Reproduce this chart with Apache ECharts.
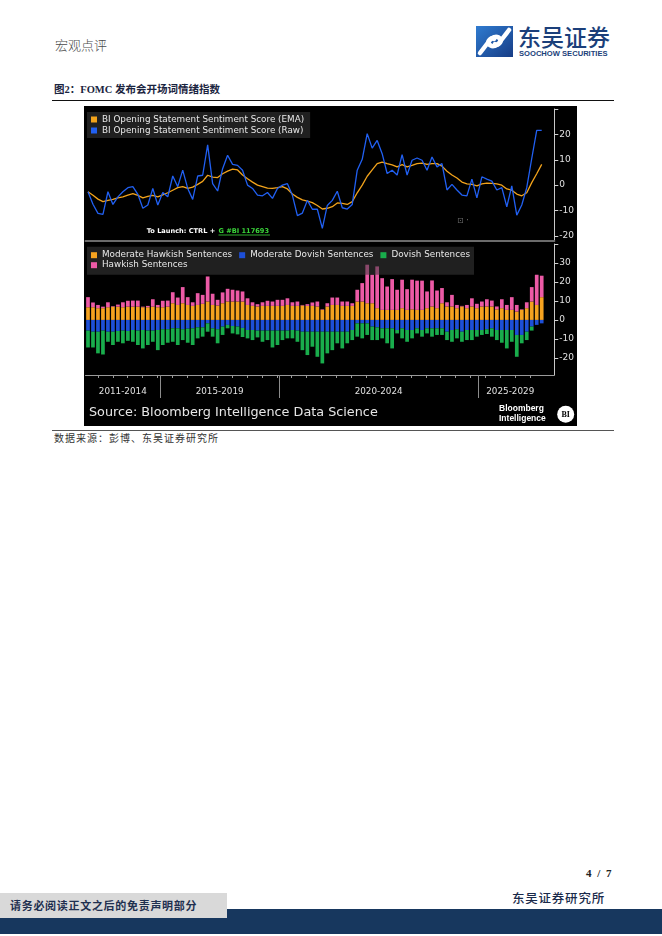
<!DOCTYPE html>
<html>
<head>
<meta charset="utf-8">
<script src="https://cdn.jsdelivr.net/npm/echarts@6/dist/echarts.min.js"></script>
<style>
html,body{margin:0;padding:0;background:#fff;}
#page{position:relative;width:662px;height:936px;overflow:hidden;background:#fff;font-family:"Noto Sans CJK SC",sans-serif;}
.abs{position:absolute;white-space:nowrap;}
</style>
</head>
<body>
<div id="page">
  <div class="abs" style="left:55px;top:38px;font-size:13px;line-height:13px;color:#4a4a4a;font-weight:300;">宏观点评</div>
  <svg class="abs" style="left:476px;top:26px" width="37" height="31" viewBox="0 0 37 31">
    <defs><linearGradient id="lg" x1="0" y1="0" x2="1" y2="1"><stop offset="0" stop-color="#2f7bd0"/><stop offset="1" stop-color="#173d86"/></linearGradient></defs>
    <rect x="0" y="0" width="37" height="31" fill="url(#lg)"/>
    <path d="M4,27 L14,14 C17,10 22,10 24,13 C26,16 22,20 19,18" stroke="#fff" stroke-width="4.5" fill="none" stroke-linecap="round"/>
    <path d="M33,4 L23,17 C20,21 15,21 13,18 C11,15 15,11 18,13" stroke="#fff" stroke-width="4.5" fill="none" stroke-linecap="round"/>
  </svg>
  <div class="abs" style="left:518px;top:25px;font-size:23px;line-height:23px;color:#1b3f7a;font-weight:500;">东吴证券</div>
  <div class="abs" style="left:519px;top:49.5px;font-family:'Liberation Sans',sans-serif;font-weight:bold;font-size:7.6px;line-height:8px;color:#1b3f7a;">SOOCHOW SECURITIES</div>
  <div class="abs" style="left:54px;top:83.5px;font-family:'Liberation Serif','Noto Sans CJK SC',serif;font-weight:bold;font-size:10.5px;line-height:11px;color:#1a2440;">图2：FOMC 发布会开场词情绪指数</div>
  <div class="abs" style="left:52px;top:100px;width:562px;height:1px;background:#111;"></div>
  <div id="chart" class="abs" style="left:84px;top:106px;width:493px;height:320px;background:#000;"></div>
  <div class="abs" style="left:52px;top:430px;width:562px;height:1px;background:#555;"></div>
  <div class="abs" style="left:54px;top:433px;font-size:10px;line-height:10px;letter-spacing:1px;color:#333;">数据来源：彭博、东吴证券研究所</div>
  <div class="abs" style="right:49px;top:867px;font-family:'Liberation Serif',serif;font-weight:bold;font-size:11px;line-height:12px;letter-spacing:1.5px;color:#222;">4 / 7</div>
  <div class="abs" style="right:57px;top:890.5px;font-size:12.5px;line-height:13px;letter-spacing:0.8px;color:#1a2a4a;font-weight:500;">东吴证券研究所</div>
  <div class="abs" style="left:0;top:909px;width:662px;height:25px;background:#17375e;"></div>
  <div class="abs" style="left:0;top:893px;width:227px;height:25px;background:#d9d9d9;"></div>
  <div class="abs" style="left:10px;top:899px;font-size:11px;line-height:12px;letter-spacing:0.7px;font-weight:bold;color:#1f3050;">请务必阅读正文之后的免责声明部分</div>
</div>
<script>
// ---- data ----
const periodLabels = ['2011-2014', '2015-2019', '2020-2024', '2025-2029'];
const periodCounts = [15, 24, 40, 13];
const yTicksTop = [-20, -10, 0, 10, 20];
const yTicksBottom = [-20, -10, 0, 10, 20, 30];

const ema = [
  -2.6, -4.0, -5.5, -6.5, -6.0, -5.6, -5.0, -4.6, -3.9, -3.3,
  -4.0, -5.0, -4.4, -4.0, -4.6, -3.8, -3.0, -2.0, -1.0, -0.6,
  -1.3, -0.8, 0.3, 1.5, 3.9, 3.2, 3.0, 4.5, 5.5, 6.3,
  6.0, 4.0, 2.5, 1.2, 0.0, -0.6, -1.2, -1.3, -1.0, -0.6,
  -1.5, -3.5, -4.8, -5.8, -6.3, -6.9, -8.0, -9.4, -9.1, -8.5,
  -7.0, -7.2, -7.6, -6.5, -3.0, 0.0, 3.5, 6.0, 8.5, 9.1,
  8.5, 8.0, 7.2, 8.1, 7.2, 7.8, 8.5, 8.7, 8.2, 8.5,
  8.5, 7.5, 5.5, 4.0, 2.8, 1.2, 0.5, 0.3, -0.3, 0.5,
  0.8, 0.7, 0.5, 0.0, -1.5, -2.0, -3.5, -4.2, -3.0, 1.0,
  4.5, 8.2
];
const raw = [
  -2.6, -7.5, -11.1, -11.5, -2.6, -7.6, -4.6, -2.6, -1.0, -0.6,
  -3.6, -9.1, -7.8, -1.3, -7.8, -2.9, -4.6, 3.6, -0.6, 5.9,
  -1.3, -5.6, 3.6, 3.9, 15.9, 0.6, -2.3, 6.5, 11.8, 8.2,
  7.8, 5.9, 0.0, -1.3, -3.9, -4.2, -2.9, -5.2, -1.3, 0.0,
  0.6, -4.0, -12.0, -11.0, -6.0, -9.5, -9.5, -17.0, -8.0, -6.0,
  -2.4, -8.9, -9.4, -7.6, 5.9, 10.2, 20.3, 14.6, 17.6, 12.4,
  4.6, 5.9, 4.0, 12.0, 4.0, 9.8, 10.7, 9.8, 5.9, 11.1,
  7.2, 8.5, -1.9, 0.3, -1.9, -3.9, -4.2, 2.4, -5.0, 3.3,
  2.4, 1.6, -1.9, -1.0, -8.5, -0.3, -11.8, -7.8, -1.0, 10.5,
  21.6, 21.6
];
const modHawkish = [
  6.7, 6.7, 6.2, 6.2, 6.7, 7.0, 7.0, 6.7, 7.0, 7.0,
  7.0, 6.7, 6.7, 7.0, 6.7, 6.7, 7.0, 8.8, 7.9, 8.8,
  7.9, 7.4, 7.9, 8.5, 9.7, 7.9, 7.6, 8.8, 9.7, 9.7,
  9.7, 9.7, 7.9, 7.4, 7.1, 7.4, 7.4, 7.4, 7.4, 7.4,
  7.9, 7.4, 7.4, 7.6, 7.4, 7.4, 7.1, 5.3, 7.1, 7.9,
  7.9, 7.4, 7.4, 7.4, 9.7, 9.7, 8.8, 8.8, 6.2, 5.3,
  5.3, 5.3, 5.3, 6.2, 5.3, 5.6, 5.3, 5.3, 6.2, 7.1,
  6.2, 8.8, 7.1, 7.1, 6.2, 7.1, 6.2, 7.1, 6.2, 7.1,
  7.1, 7.1, 5.6, 6.2, 5.3, 5.3, 4.4, 5.3, 6.2, 9.7,
  7.9, 12.0
];
const modDovish = [
  -5.6, -6.2, -6.2, -5.6, -6.2, -6.2, -5.8, -5.6, -5.8, -5.3,
  -5.6, -5.3, -5.6, -5.6, -5.3, -4.9, -4.9, -4.4, -4.4, -4.9,
  -4.6, -4.4, -3.9, -3.9, -1.8, -4.4, -4.9, -3.5, -2.6, -3.2,
  -3.5, -4.2, -5.3, -5.3, -5.6, -5.6, -5.6, -5.6, -5.6, -5.6,
  -5.6, -5.3, -5.6, -6.2, -6.2, -6.2, -6.2, -6.2, -6.2, -6.2,
  -6.2, -6.2, -6.2, -5.3, -1.8, -1.8, -1.8, -3.5, -3.9, -4.4,
  -4.4, -4.4, -5.3, -4.4, -5.3, -5.3, -4.4, -5.3, -4.4, -4.4,
  -4.4, -4.4, -6.2, -5.3, -4.9, -6.2, -5.3, -5.3, -5.3, -5.3,
  -4.9, -4.4, -5.3, -5.3, -5.3, -5.3, -7.9, -7.9, -6.2, -3.5,
  -2.6, -1.8
];
const dovish = [
  -8.9, -8.3, -11.4, -12.6, -5.3, -7.0, -5.7, -6.7, -5.2, -6.2,
  -7.6, -9.7, -7.6, -5.9, -10.6, -8.3, -7.1, -7.1, -8.8, -5.7,
  -7.4, -8.8, -5.8, -4.9, -4.4, -4.4, -7.4, -4.4, -1.8, -3.9,
  -4.1, -4.8, -4.4, -5.3, -3.6, -5.9, -5.0, -8.9, -7.6, -5.0,
  -4.1, -4.4, -5.9, -9.7, -12.3, -7.9, -13.2, -16.7, -11.4, -9.7,
  -6.1, -8.8, -6.1, -5.3, -7.0, -7.9, -6.1, -7.1, -6.7, -5.3,
  -7.9, -10.6, -1.8, -5.3, -6.2, -4.4, -2.7, -3.5, -2.7, -4.4,
  -3.5, -3.5, -4.4, -6.2, -4.8, -5.3, -5.3, -5.3, -3.5, -2.6,
  -2.5, -4.4, -5.3, -6.7, -9.7, -6.2, -11.5, -4.4, -4.4, -2.1,
  0, 0
];
const hawkish = [
  5.3, 2.5, 1.7, 0.8, 2.6, 0.3, 1.1, 2.6, 3.1, 3.2,
  3.2, 0.3, 0.7, 3.9, 1.2, 3.4, 3.2, 5.8, 3.9, 8.5,
  4.1, 1.9, 6.2, 4.7, 13.2, 5.9, 3.0, 5.7, 6.7, 6.2,
  5.8, 5.3, 3.5, 1.9, 1.2, 1.9, 2.7, 2.3, 3.2, 3.2,
  3.5, 1.9, 2.3, 0.3, 0.9, 1.8, 2.6, 0.3, 1.7, 3.9,
  3.9, 2.3, 2.3, 1.4, 6.2, 9.7, 20.3, 15.0, 22.0, 16.7,
  12.3, 16.2, 10.6, 15.0, 10.9, 15.6, 15.4, 15.4, 8.8, 13.7,
  9.3, 8.0, 2.2, 6.1, 1.7, 0.3, 1.7, 4.3, 2.3, 2.6,
  3.8, 3.1, 1.5, 4.7, 2.6, 6.7, 3.5, 0.3, 3.1, 7.6,
  15.9, 11.3
];

// ---- build ----
const categories = [];
periodLabels.forEach((p, k) => { for (let j = 0; j < periodCounts[k]; j++) categories.push(p + ' #' + (j + 1)); });
const N = categories.length;

const L = 1.5, DW = 458.7, FW = 470.5;
const band = DW / N;
const fMax = FW / band - 0.5;

const bounds = [], centers = [];
let acc = 0;
periodCounts.forEach(c => { centers.push(acc + (c - 1) / 2); acc += c; bounds.push(acc - 0.5); });
bounds.pop();
const minorTicks = [];
for (let v = 2; v < N; v += 3) minorTicks.push(v);

const EMA = 'BI Opening Statement Sentiment Score (EMA)';
const RAW = 'BI Opening Statement Sentiment Score (Raw)';
const MH = 'Moderate Hawkish Sentences', MD = 'Moderate Dovish Sentences', DV = 'Dovish Sentences', HK = 'Hawkish Sentences';
const C = { ema: '#f2a31b', raw: '#2160f2', mh: '#f5a21f', md: '#1d4fd8', dv: '#19ad4c', hk: '#ec5aa6' };

const legendText = { color: '#e8e8e8', fontSize: 8.8, lineHeight: 11, fontFamily: 'DejaVu Sans' };
const legendBase = { itemWidth: 6, itemHeight: 6, icon: 'rect', selectedMode: false, textStyle: legendText };

const chart = echarts.init(document.getElementById('chart'), null, { renderer: 'canvas', width: 493, height: 320 });
chart.setOption({
  backgroundColor: '#000',
  animation: false,
  textStyle: { fontFamily: 'DejaVu Sans' },
  grid: [
    { left: L, top: 3, width: DW, height: 132 },
    { left: L, top: 138, width: DW, height: 131 },
    { left: L, top: 3, width: FW, height: 132 },
    { left: L, top: 138, width: FW, height: 131 }
  ],
  xAxis: [
    { gridIndex: 0, type: 'category', data: categories, boundaryGap: true, show: false },
    { gridIndex: 1, type: 'category', data: categories, boundaryGap: true, show: false },
    { gridIndex: 2, type: 'value', min: -0.5, max: fMax,
      axisLine: { onZero: false, lineStyle: { color: '#6b6b6b', width: 2 } },
      axisTick: { show: false }, axisLabel: { show: false }, splitLine: { show: false } },
    { gridIndex: 3, type: 'value', min: -0.5, max: fMax,
      axisLine: { onZero: false, lineStyle: { color: '#9a9a9a', width: 1 } },
      axisTick: { show: true, customValues: bounds, length: 23, lineStyle: { color: '#8c8c8c' } },
      axisLabel: { customValues: centers, margin: 12, color: '#e0e0e0', fontSize: 8.8,
        formatter: v => { let b = 0; centers.forEach((c, k) => { if (Math.abs(c - v) < Math.abs(centers[b] - v)) b = k; }); return periodLabels[b]; } },
      splitLine: { show: false } },
    { gridIndex: 3, type: 'value', min: -0.5, max: fMax, position: 'bottom',
      axisLine: { show: false, onZero: false },
      axisTick: { show: true, customValues: minorTicks, length: 3, lineStyle: { color: '#9a9a9a' } },
      axisLabel: { show: false }, splitLine: { show: false } }
  ],
  yAxis: [
    { gridIndex: 0, type: 'value', min: -22, max: 30, show: false },
    { gridIndex: 1, type: 'value', min: -29, max: 40, show: false },
    { gridIndex: 2, type: 'value', min: -22, max: 30, position: 'right',
      axisLine: { show: true, onZero: false, lineStyle: { color: '#c8c8c8' } },
      axisTick: { show: true, customValues: [-20, -10, 0, 10, 20, 30], length: 4, lineStyle: { color: '#d0d0d0' } },
      axisLabel: { customValues: yTicksTop, color: '#e0e0e0', fontSize: 9, margin: 5 },
      splitLine: { show: false } },
    { gridIndex: 3, type: 'value', min: -29, max: 40, position: 'right',
      axisLine: { show: true, onZero: false, lineStyle: { color: '#c8c8c8' } },
      axisTick: { show: true, customValues: [-20, -10, 0, 10, 20, 30, 40], length: 4, lineStyle: { color: '#d0d0d0' } },
      axisLabel: { customValues: yTicksBottom, color: '#e0e0e0', fontSize: 9, margin: 5 },
      splitLine: { show: false } }
  ],
  legend: [
    Object.assign({}, legendBase, { data: [EMA, RAW], orient: 'vertical', left: 3, top: 6, padding: [2, 6, 2, 4], itemGap: 0, backgroundColor: 'rgba(58,58,58,0.55)' }),
    Object.assign({}, legendBase, { data: [MH, MD, DV], orient: 'horizontal', left: 3, top: 140.7, padding: [3, 4, 14, 4], itemGap: 7, backgroundColor: 'rgba(58,58,58,0.55)' }),
    Object.assign({}, legendBase, { data: [HK], orient: 'horizontal', left: 3, top: 153.7, padding: [0, 5, 0, 4], backgroundColor: 'transparent' })
  ],
  series: [
    { name: EMA, type: 'line', xAxisIndex: 0, yAxisIndex: 0, data: ema, color: C.ema, symbol: 'none', showSymbol: false, lineStyle: { color: C.ema, width: 1.3 }, z: 3 },
    { name: RAW, type: 'line', xAxisIndex: 0, yAxisIndex: 0, data: raw, color: C.raw, symbol: 'none', showSymbol: false, lineStyle: { color: C.raw, width: 1.3 }, z: 3 },
    { name: MH, type: 'bar', xAxisIndex: 1, yAxisIndex: 1, stack: 's', barWidth: 3.7, data: modHawkish, color: C.mh, itemStyle: { color: C.mh } },
    { name: MD, type: 'bar', xAxisIndex: 1, yAxisIndex: 1, stack: 's', barWidth: 3.7, data: modDovish, color: C.md, itemStyle: { color: C.md } },
    { name: DV, type: 'bar', xAxisIndex: 1, yAxisIndex: 1, stack: 's', barWidth: 3.7, data: dovish, color: C.dv, itemStyle: { color: C.dv } },
    { name: HK, type: 'bar', xAxisIndex: 1, yAxisIndex: 1, stack: 's', barWidth: 3.7, data: hawkish, color: C.hk, itemStyle: { color: C.hk } }
  ],
  graphic: [
    { type: 'text', left: 62.7, top: 121.3, z: 10, style: { text: 'To Launch: CTRL + ', fill: '#ffffff', font: 'bold 6.6px "DejaVu Sans"' } },
    { type: 'text', left: 134.5, top: 121.3, z: 10, style: { text: 'G #BI 117693', fill: '#3ad63a', font: 'bold 6.6px "DejaVu Sans"' } },
    { type: 'line', z: 10, shape: { x1: 134.5, y1: 129, x2: 186, y2: 129 }, style: { stroke: '#3ad63a', lineWidth: 0.8 } },
    { type: 'text', left: 373, top: 111, z: 10, style: { text: '⊡ ·', fill: '#6a6a6a', font: '8px "DejaVu Sans"' } },
    { type: 'text', left: 5, top: 300.5, z: 10, style: { text: 'Source: Bloomberg Intelligence Data Science', fill: '#e6e6e6', font: '12.8px "DejaVu Sans"' } },
    { type: 'text', left: 415, top: 298.3, z: 10, style: { text: 'Bloomberg\nIntelligence', fill: '#ffffff', font: 'bold 8.5px "Liberation Sans"', lineHeight: 9.3 } },
    { type: 'circle', z: 10, shape: { cx: 481.7, cy: 308.3, r: 8.5 }, style: { fill: '#ffffff' } },
    { type: 'text', z: 11, x: 481.7, y: 308.6, style: { text: 'BI', fill: '#000000', font: 'bold 8px "Liberation Serif"', align: 'center', verticalAlign: 'middle' } }
  ]
});
</script>
</body>
</html>
